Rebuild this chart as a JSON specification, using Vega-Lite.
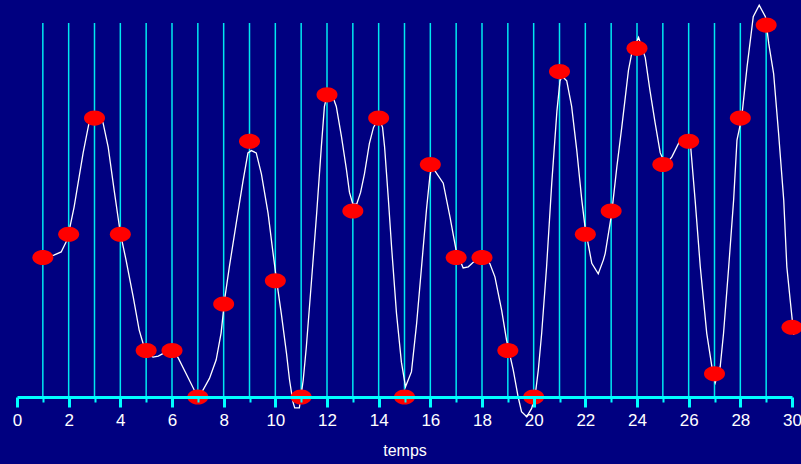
{
  "$schema": "https://vega.github.io/schema/vega-lite/v6.json",
  "width": 775,
  "height": 374,
  "autosize": {"type": "none"},
  "padding": {"left": 17, "top": 23, "right": 9, "bottom": 67},
  "background": "#000080",
  "config": {"view": {"stroke": null}},
  "datasets": {
    "lines": [{"t":1},{"t":2},{"t":3},{"t":4},{"t":5},{"t":6},{"t":7},{"t":8},{"t":9},{"t":10},{"t":11},{"t":12},{"t":13},{"t":14},{"t":15},{"t":16},{"t":17},{"t":18},{"t":19},{"t":20},{"t":21},{"t":22},{"t":23},{"t":24},{"t":25},{"t":26},{"t":27},{"t":28},{"t":29}],
    "samples": [
      {"t":1,"v":6},{"t":2,"v":7},{"t":3,"v":12},{"t":4,"v":7},{"t":5,"v":2},{"t":6,"v":2},{"t":7,"v":0},{"t":8,"v":4},{"t":9,"v":11},{"t":10,"v":5},
      {"t":11,"v":0},{"t":12,"v":13},{"t":13,"v":8},{"t":14,"v":12},{"t":15,"v":0},{"t":16,"v":10},{"t":17,"v":6},{"t":18,"v":6},{"t":19,"v":2},{"t":20,"v":0},
      {"t":21,"v":14},{"t":22,"v":7},{"t":23,"v":8},{"t":24,"v":15},{"t":25,"v":10},{"t":26,"v":11},{"t":27,"v":1},{"t":28,"v":12},{"t":29,"v":16},{"t":30,"v":3}
    ],
    "signal": [
      {"t":1,"v":6.0},{"t":1.43,"v":6.1},{"t":1.71,"v":6.24},{"t":1.9,"v":6.67},{"t":2,"v":7.05},{"t":2.21,"v":8.17},{"t":2.56,"v":10.5},{"t":2.79,"v":11.8},{"t":3,"v":12.2},{"t":3.2,"v":12.0},
      {"t":3.33,"v":11.8},{"t":3.53,"v":10.75},{"t":3.76,"v":8.9},{"t":4,"v":7.05},{"t":4.22,"v":5.9},{"t":4.5,"v":4.3},{"t":4.73,"v":2.88},{"t":4.92,"v":2.15},{"t":5.1,"v":1.8},{"t":5.27,"v":1.72},
      {"t":5.47,"v":1.76},{"t":5.7,"v":1.9},{"t":6,"v":2.06},{"t":6.24,"v":1.68},{"t":6.63,"v":0.82},{"t":6.86,"v":0.3},{"t":7,"v":0.1},{"t":7.2,"v":0.3},{"t":7.45,"v":0.8},{"t":7.71,"v":1.6},
      {"t":7.9,"v":2.75},{"t":8.05,"v":4.3},{"t":8.22,"v":5.6},{"t":8.49,"v":7.5},{"t":8.75,"v":9.3},{"t":8.94,"v":10.5},{"t":9.07,"v":10.6},{"t":9.26,"v":10.5},{"t":9.46,"v":9.6},{"t":9.72,"v":7.9},
      {"t":9.91,"v":6.2},{"t":10.05,"v":5.0},{"t":10.23,"v":3.6},{"t":10.43,"v":1.9},{"t":10.55,"v":0.73},{"t":10.68,"v":-0.2},{"t":10.75,"v":-0.47},{"t":10.93,"v":-0.47},{"t":11.08,"v":0.73},{"t":11.2,"v":2.15},
      {"t":11.4,"v":5.0},{"t":11.6,"v":7.9},{"t":11.78,"v":10.75},{"t":11.9,"v":12.5},{"t":12.05,"v":13.2},{"t":12.2,"v":13.0},{"t":12.36,"v":12.5},{"t":12.56,"v":11.2},{"t":12.75,"v":9.8},{"t":12.87,"v":8.8},
      {"t":13.0,"v":8.3},{"t":13.15,"v":8.3},{"t":13.3,"v":8.8},{"t":13.45,"v":9.6},{"t":13.64,"v":10.9},{"t":13.8,"v":11.6},{"t":14,"v":12.0},{"t":14.15,"v":11.6},{"t":14.23,"v":10.75},{"t":14.37,"v":8.6},{"t":14.5,"v":6.45},
      {"t":14.69,"v":3.6},{"t":14.88,"v":1.5},{"t":15.04,"v":0.44},{"t":15.27,"v":1.09},{"t":15.47,"v":3.17},{"t":15.66,"v":5.6},{"t":15.85,"v":8.05},{"t":15.98,"v":9.47},{"t":16.05,"v":9.9},{"t":16.16,"v":9.76},
      {"t":16.5,"v":9.2},{"t":16.76,"v":7.75},{"t":17.0,"v":6.3},{"t":17.27,"v":5.55},{"t":17.47,"v":5.6},{"t":17.66,"v":5.8},{"t":18,"v":6.0},{"t":18.3,"v":5.75},{"t":18.5,"v":5.17},{"t":18.76,"v":3.74},
      {"t":18.95,"v":2.45},{"t":19.21,"v":1.16},{"t":19.4,"v":0},{"t":19.53,"v":-0.63},{"t":19.73,"v":-0.85},{"t":19.92,"v":-0.49},{"t":20.05,"v":0},{"t":20.18,"v":1.16},{"t":20.31,"v":2.74},{"t":20.5,"v":5.6},
      {"t":20.7,"v":9.2},{"t":20.9,"v":12.3},{"t":21.02,"v":13.6},{"t":21.1,"v":13.8},{"t":21.28,"v":13.6},{"t":21.47,"v":12.5},{"t":21.67,"v":10.6},{"t":21.86,"v":8.5},{"t":21.99,"v":7.3},{"t":22.25,"v":5.75},
      {"t":22.5,"v":5.3},{"t":22.7,"v":5.9},{"t":22.77,"v":6.18},{"t":23.02,"v":7.9},{"t":23.22,"v":9.9},{"t":23.41,"v":11.6},{"t":23.67,"v":14.06},{"t":23.8,"v":14.8},{"t":24.06,"v":15.47},{"t":24.32,"v":14.6},
      {"t":24.5,"v":13.2},{"t":24.7,"v":11.8},{"t":24.9,"v":10.5},{"t":25.1,"v":10.0},{"t":25.35,"v":10.33},{"t":25.67,"v":11.05},{"t":26.06,"v":11.0},{"t":26.25,"v":8.47},{"t":26.45,"v":5.6},{"t":26.7,"v":2.74},
      {"t":26.9,"v":1.3},{"t":27.03,"v":0.62},{"t":27.22,"v":1.3},{"t":27.35,"v":2.74},{"t":27.55,"v":5.6},{"t":27.74,"v":8.47},{"t":27.87,"v":11.05},{"t":28.05,"v":12.0},{"t":28.26,"v":14.2},{"t":28.5,"v":16.36},
      {"t":28.73,"v":16.86},{"t":28.97,"v":16.36},{"t":29.1,"v":15.2},{"t":29.29,"v":13.9},{"t":29.48,"v":11.35},{"t":29.68,"v":8.47},{"t":29.8,"v":5.6},{"t":29.93,"v":4.17},{"t":30.07,"v":2.67}
    ]
  },
  "encoding": {
    "x": {
      "field": "t",
      "type": "quantitative",
      "scale": {"domain": [0, 30], "nice": false, "zero": false},
      "axis": {
        "values": [0,1,2,3,4,5,6,7,8,9,10,11,12,13,14,15,16,17,18,19,20,21,22,23,24,25,26,27,28,29,30],
        "format": "d",
        "grid": false,
        "zindex": 1,
        "domainColor": "#00ffff",
        "domainWidth": 3,
        "tickColor": "#00ffff",
        "tickWidth": {"condition": {"test": "datum.value % 2 === 0", "value": 3}, "value": 2},
        "tickSize": {"condition": {"test": "datum.value % 2 === 0", "value": 10}, "value": 5},
        "labelExpr": "datum.value % 2 === 0 ? datum.label : ''",
        "labelColor": "#ffffff",
        "labelFont": "Liberation Sans",
        "labelFontSize": 17,
        "labelPadding": 5,
        "labelOverlap": false,
        "labelFlush": false,
        "title": "temps",
        "titleColor": "#ffffff",
        "titleFont": "Liberation Sans",
        "titleFontSize": 16,
        "titleFontWeight": "normal",
        "titlePadding": 14
      }
    }
  },
  "layer": [
    {
      "data": {"name": "lines"},
      "mark": {"type": "rule", "color": "#00e8f0", "strokeWidth": 1.5}
    },
    {
      "data": {"name": "signal"},
      "mark": {"type": "line", "color": "#ffffff", "strokeWidth": 1.3, "clip": false},
      "encoding": {
        "y": {"field": "v", "type": "quantitative", "scale": {"domain": [0, 16.09], "nice": false}, "axis": null}
      }
    },
    {
      "data": {"name": "samples"},
      "mark": {"type": "point", "shape": "M -1 0 A 1 0.72 0 1 1 1 0 A 1 0.72 0 1 1 -1 0 Z", "size": 441, "filled": true, "color": "#ff0000", "opacity": 1, "strokeWidth": 0},
      "encoding": {
        "y": {"field": "v", "type": "quantitative", "scale": {"domain": [0, 16.09], "nice": false}, "axis": null}
      }
    }
  ]
}
